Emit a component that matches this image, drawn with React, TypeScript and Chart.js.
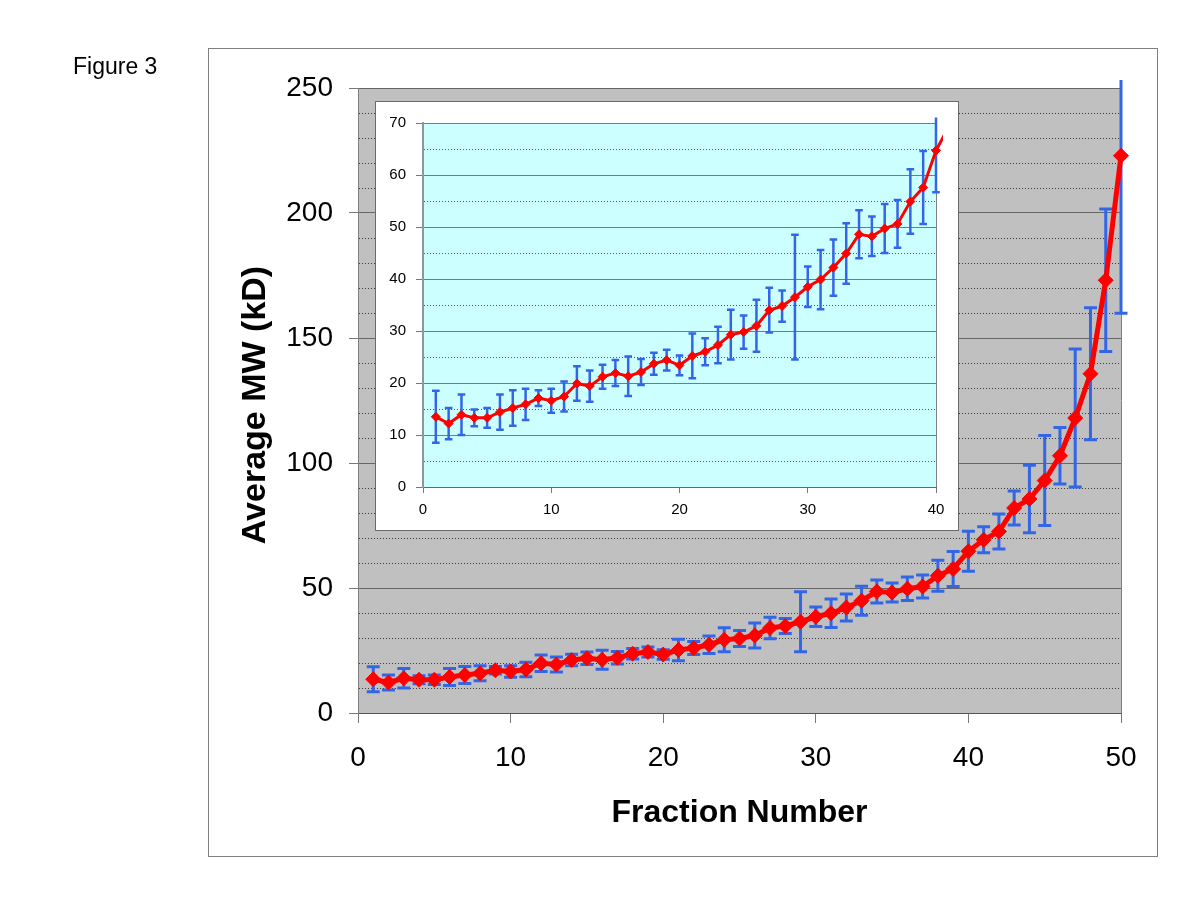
import React, { useEffect, useRef } from 'react';
import { Chart, registerables } from 'chart.js';

Chart.register(...registerables);

// ---------- data ----------
const fractions = [
  1, 2, 3, 4, 5, 6, 7, 8, 9, 10,
  11, 12, 13, 14, 15, 16, 17, 18, 19, 20,
  21, 22, 23, 24, 25, 26, 27, 28, 29, 30,
  31, 32, 33, 34, 35, 36, 37, 38, 39, 40,
  41, 42, 43, 44, 45, 46, 47, 48, 49, 50,
];
const mwMean = [
  13.5, 12.2, 13.9, 13.3, 13.3, 14.4, 15.2, 15.9, 17.1, 16.6,
  17.4, 19.9, 19.4, 21.2, 21.9, 21.3, 22.1, 23.7, 24.4, 23.4,
  25.2, 26.0, 27.3, 29.3, 29.8, 31.0, 34.0, 34.8, 36.5, 38.5,
  39.9, 42.2, 44.9, 48.6, 48.2, 49.7, 50.6, 54.9, 57.6, 64.7,
  69.3, 72.6, 82.0, 85.6, 93.0, 102.9, 118.0, 135.7, 173.1, 222.9,
];
const mwError = [
  5.0, 3.0, 3.9, 1.6, 1.9, 3.4, 3.4, 3.0, 1.5, 2.3,
  2.9, 3.3, 3.0, 2.3, 2.5, 3.8, 2.5, 2.1, 2.0, 1.9,
  4.3, 2.6, 3.5, 4.8, 3.2, 5.0, 4.3, 3.0, 12.0, 3.9,
  5.7, 5.4, 5.8, 4.6, 3.8, 4.7, 4.6, 6.2, 7.0, 8.0,
  5.2, 7.0, 6.8, 13.5, 18.0, 11.3, 27.6, 26.4, 28.5, 63.0,
];

// axis ranges / ticks
const mainXMax = 50;
const mainXStep = 10;
const mainYMax = 250;
const mainYStep = 50;
const mainYMinorStep = 10;
const insetXMax = 40;
const insetXStep = 10;
const insetYMax = 70;
const insetYStep = 10;
const insetYMinorStep = 5;
const insetLineLastFraction = 41; // line continues past the axis end and is clipped
const insetErrLastFraction = 40;

// text
const figureLabel = 'Figure 3';
const yTitle = 'Average MW (kD)';
const xTitle = 'Fraction Number';

const FONT = "'Liberation Sans', Arial, Helvetica, sans-serif";
const RED = '#ff0000';
const BLUE = '#3366e6';

function minorGridPlugin(step: number, major: number, color: string) {
  return {
    id: 'minorGrid',
    beforeDatasetsDraw(chart: any) {
      const { ctx, chartArea } = chart;
      const ys = chart.scales.y;
      ctx.save();
      ctx.strokeStyle = color;
      ctx.lineWidth = 1;
      ctx.setLineDash([1, 2]);
      for (let v = step; v < ys.max; v += step) {
        if (Math.abs(v % major) < 1e-9) continue;
        const y = Math.round(ys.getPixelForValue(v)) + 0.5;
        ctx.beginPath();
        ctx.moveTo(chartArea.left + 1, y);
        ctx.lineTo(chartArea.right, y);
        ctx.stroke();
      }
      ctx.restore();
      // right border of plot area
      ctx.save();
      ctx.strokeStyle = '#808080';
      ctx.lineWidth = 1;
      const xr = Math.round(chartArea.right) + 0.5;
      ctx.beginPath();
      ctx.moveTo(xr, chartArea.top);
      ctx.lineTo(xr, chartArea.bottom);
      ctx.stroke();
      ctx.restore();
    },
  };
}

function errorBarPlugin(width: number, cap: number, overTop: number) {
  return {
    id: 'errorBars',
    beforeDatasetsDraw(chart: any) {
      const ds = chart.data.datasets[0];
      const errs: number[] = ds.errors;
      const xs = chart.scales.x;
      const ys = chart.scales.y;
      const area = chart.chartArea;
      const ctx = chart.ctx;
      ctx.save();
      ctx.beginPath();
      ctx.rect(area.left - 30, area.top - overTop, area.right - area.left + 60, area.bottom - area.top + overTop + 30);
      ctx.clip();
      ctx.strokeStyle = BLUE;
      ctx.lineWidth = width;
      ctx.lineCap = 'butt';
      errs.forEach((e, i) => {
        const pt = ds.data[i];
        if (!pt || e == null) return;
        const x = xs.getPixelForValue(pt.x);
        const yTop = ys.getPixelForValue(pt.y + e);
        const yBot = ys.getPixelForValue(pt.y - e);
        ctx.beginPath();
        ctx.moveTo(x, yTop);
        ctx.lineTo(x, yBot);
        ctx.moveTo(x - cap, yTop);
        ctx.lineTo(x + cap, yTop);
        ctx.moveTo(x - cap, yBot);
        ctx.lineTo(x + cap, yBot);
        ctx.stroke();
      });
      ctx.restore();
    },
  };
}

export default function App() {
  const mainRef = useRef<HTMLCanvasElement | null>(null);
  const insetRef = useRef<HTMLCanvasElement | null>(null);

  useEffect(() => {
    if (!mainRef.current || !insetRef.current) return;

    const mainData = fractions.map((f, i) => ({ x: f, y: mwMean[i] }));
    const insetData = fractions
      .filter((f) => f <= insetLineLastFraction)
      .map((f, i) => ({ x: f, y: mwMean[i] }));
    const insetErrors = mwError.slice(0, insetErrLastFraction);

    const mainBg = {
      id: 'mainBg',
      beforeDraw(chart: any) {
        const { ctx, chartArea } = chart;
        ctx.save();
        ctx.fillStyle = '#ffffff';
        ctx.fillRect(0, 0, chart.width, chart.height);
        ctx.strokeStyle = '#808080';
        ctx.lineWidth = 1;
        ctx.strokeRect(208.5, 48.5, 949, 808);
        ctx.fillStyle = '#c0c0c0';
        ctx.fillRect(chartArea.left, chartArea.top, chartArea.right - chartArea.left, chartArea.bottom - chartArea.top);
        ctx.restore();
      },
      afterDraw(chart: any) {
        const ctx = chart.ctx;
        ctx.save();
        ctx.fillStyle = '#000';
        ctx.font = `23px ${FONT}`;
        ctx.textAlign = 'left';
        ctx.textBaseline = 'alphabetic';
        ctx.fillText(figureLabel, 73, 74);
        ctx.translate(256, 405);
        ctx.rotate(-Math.PI / 2);
        ctx.font = `bold 34px ${FONT}`;
        ctx.textAlign = 'center';
        ctx.textBaseline = 'middle';
        ctx.fillText(yTitle, 0, 0);
        ctx.restore();
      },
    };

    const mainChart = new Chart(mainRef.current, {
      type: 'line',
      data: {
        datasets: [
          {
            data: mainData,
            errors: mwError,
            borderColor: RED,
            borderWidth: 5,
            backgroundColor: RED,
            pointStyle: 'rectRot',
            pointRadius: 7.5,
            pointBackgroundColor: RED,
            pointBorderColor: RED,
            pointBorderWidth: 1,
            tension: 0,
            clip: false,
          } as any,
        ],
      },
      options: {
        responsive: false,
        animation: false,
        events: [],
        layout: { padding: { left: 0, right: 79, top: 88, bottom: 0 } },
        plugins: { legend: { display: false }, tooltip: { enabled: false } },
        scales: {
          x: {
            type: 'linear',
            min: 0,
            max: mainXMax,
            afterFit: (s: any) => {
              s.height = 187;
            },
            ticks: {
              stepSize: mainXStep,
              padding: 18,
              color: '#000',
              font: { family: FONT, size: 28 },
              maxRotation: 0,
            },
            grid: {
              drawOnChartArea: false,
              drawTicks: true,
              tickLength: 10,
              tickColor: '#777',
            },
            border: { display: true, color: '#555', width: 1 },
            title: {
              display: true,
              text: xTitle,
              color: '#000',
              font: { family: FONT, size: 32, weight: 'bold' },
              padding: { top: 0, bottom: 68 },
            },
          },
          y: {
            type: 'linear',
            min: 0,
            max: mainYMax,
            afterFit: (s: any) => {
              s.width = 358;
            },
            ticks: {
              stepSize: mainYStep,
              padding: 16,
              color: '#000',
              font: { family: FONT, size: 28 },
            },
            grid: {
              color: '#666',
              lineWidth: 1,
              drawTicks: true,
              tickLength: 9,
              tickColor: '#777',
            },
            border: { display: true, color: '#808080', width: 1 },
          },
        },
      },
      plugins: [mainBg, minorGridPlugin(mainYMinorStep, mainYStep, '#3a3a3a'), errorBarPlugin(3, 6.5, 8)],
    } as any);

    const insetBg = {
      id: 'insetBg',
      beforeDraw(chart: any) {
        const { ctx, chartArea } = chart;
        ctx.save();
        ctx.fillStyle = '#ffffff';
        ctx.fillRect(0, 0, chart.width, chart.height);
        ctx.strokeStyle = '#6a6a6a';
        ctx.lineWidth = 1;
        ctx.strokeRect(0.5, 0.5, chart.width - 1, chart.height - 1);
        ctx.fillStyle = '#ccffff';
        ctx.fillRect(chartArea.left, chartArea.top, chartArea.right - chartArea.left, chartArea.bottom - chartArea.top);
        ctx.restore();
      },
    };

    const insetChart = new Chart(insetRef.current, {
      type: 'line',
      data: {
        datasets: [
          {
            data: insetData,
            errors: insetErrors,
            borderColor: RED,
            borderWidth: 3,
            backgroundColor: RED,
            pointStyle: 'rectRot',
            pointRadius: 4.5,
            pointBackgroundColor: RED,
            pointBorderColor: RED,
            pointBorderWidth: 1,
            tension: 0,
            clip: { left: 7, right: 7, top: 7, bottom: 7 },
          } as any,
        ],
      },
      options: {
        responsive: false,
        animation: false,
        events: [],
        layout: { padding: { left: 0, right: 23, top: 22, bottom: 0 } },
        plugins: { legend: { display: false }, tooltip: { enabled: false } },
        scales: {
          x: {
            type: 'linear',
            // range set after data limits so the line segment past the axis end is still drawn (and clipped)
            afterDataLimits: (s: any) => {
              s.min = 0;
              s.max = insetXMax;
            },
            afterFit: (s: any) => {
              s.height = 44;
            },
            ticks: {
              stepSize: insetXStep,
              padding: 8,
              color: '#000',
              font: { family: FONT, size: 15 },
              maxRotation: 0,
            },
            grid: {
              drawOnChartArea: false,
              drawTicks: true,
              tickLength: 6,
              tickColor: '#777',
            },
            border: { display: true, color: '#666', width: 1 },
          },
          y: {
            type: 'linear',
            min: 0,
            max: insetYMax,
            afterFit: (s: any) => {
              s.width = 48;
            },
            ticks: {
              stepSize: insetYStep,
              padding: 10,
              color: '#000',
              font: { family: FONT, size: 15 },
            },
            grid: {
              color: '#6e7f7f',
              lineWidth: 1,
              drawTicks: true,
              tickLength: 7,
              tickColor: '#777',
            },
            border: { display: true, color: '#8a9a9a', width: 2 },
          },
        },
      },
      plugins: [insetBg, minorGridPlugin(insetYMinorStep, insetYStep, '#4a5a5a'), errorBarPlugin(2.5, 3.8, 5.5)],
    } as any);

    return () => {
      mainChart.destroy();
      insetChart.destroy();
    };
  }, []);

  return (
    <div style={{ position: 'absolute', left: 0, top: 0, width: 1200, height: 900, background: '#fff' }}>
      <canvas ref={mainRef} width={1200} height={900} style={{ position: 'absolute', left: 0, top: 0 }} />
      <canvas ref={insetRef} width={584} height={430} style={{ position: 'absolute', left: 375, top: 101 }} />
    </div>
  );
}
